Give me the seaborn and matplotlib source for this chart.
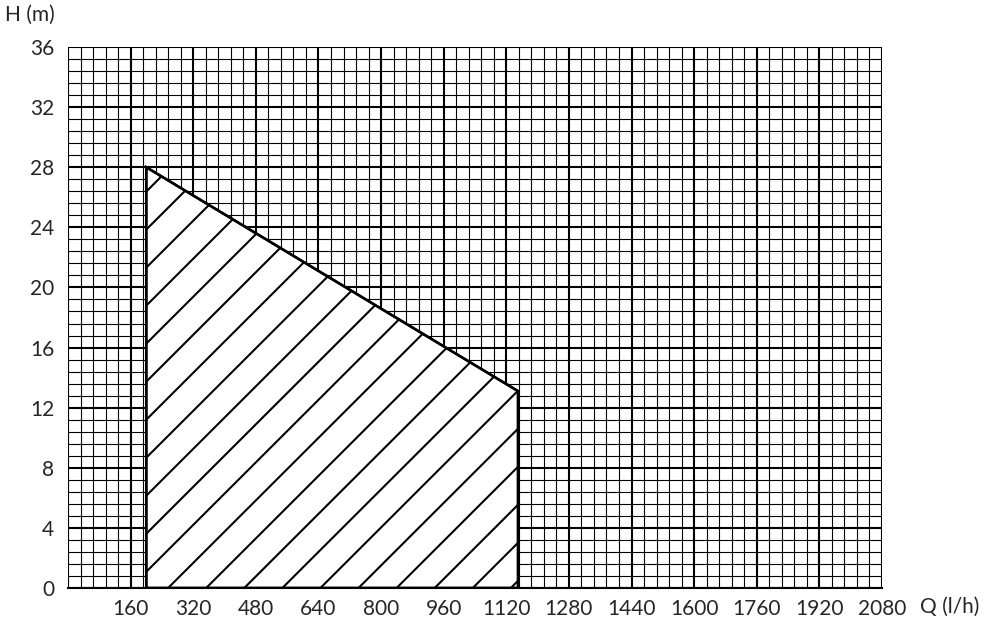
"""Pump operating range chart (H vs Q) on a graph-paper grid."""
import numpy as np
import matplotlib
matplotlib.use("Agg")
import matplotlib.pyplot as plt
from matplotlib.ticker import MultipleLocator
import seaborn as sns

# operating area outline (Q in l/h, H in m)
flow = [200, 200, 1150, 1150]
head = [0, 28, 13.1, 0]

x_ticks = [160, 320, 480, 640, 800, 960, 1120, 1280, 1440, 1600, 1760, 1920, 2080]
y_ticks = [0, 4, 8, 12, 16, 20, 24, 28, 32, 36]

# hatch line: where the first line meets the left edge, spacing, slope
hatch_start = 1.08
hatch_step = 2.53
hatch_slope = 0.026

sns.set_style("white")
plt.rcParams["font.family"] = ["Lato", "DejaVu Sans"]

fig = plt.figure(figsize=(9.84, 6.24), dpi=100)
ax = fig.add_axes([68 / 984, 36 / 624, 814 / 984, 541 / 624])

ax.set_xlim(0, 2080)
ax.set_ylim(0, 36)
ax.set_xticks(x_ticks)
ax.set_yticks(y_ticks)
ax.xaxis.set_minor_locator(MultipleLocator(32))
ax.yaxis.set_minor_locator(MultipleLocator(0.8))

# graph paper grid
ax.set_axisbelow(True)
ax.grid(which="major", color="black", linewidth=1.5)
ax.grid(which="minor", color="black", linewidth=0.8)
for s in ax.spines.values():
    s.set_visible(False)
ax.spines["bottom"].set_visible(True)
ax.spines["bottom"].set_linewidth(1.5)
ax.spines["bottom"].set_color("black")

ax.tick_params(which="both", length=0)
ax.tick_params(axis="x", labelsize=15, pad=8)
ax.tick_params(axis="y", labelsize=15, pad=10)

# operating area
patch = ax.fill(flow, head, facecolor="white", edgecolor="black",
                linewidth=1.8, zorder=3)[0]

# hatching
for h0 in np.arange(hatch_start - 30 * hatch_step, 40, hatch_step):
    ln = ax.axline((flow[0], h0), slope=hatch_slope, color="black",
                   linewidth=1.5, zorder=4)
    ln.set_clip_path(patch)
ax.fill(flow, head, facecolor="none", edgecolor="black", linewidth=1.8, zorder=5)

fig.text(5 / 984, 1 - 15 / 624, "H (m)", fontsize=15, va="center", ha="left")
fig.text(920 / 984, 1 - 607 / 624, "Q (l/h)", fontsize=15, va="center", ha="left")

plt.savefig("out.png", dpi=100)
plt.close()
